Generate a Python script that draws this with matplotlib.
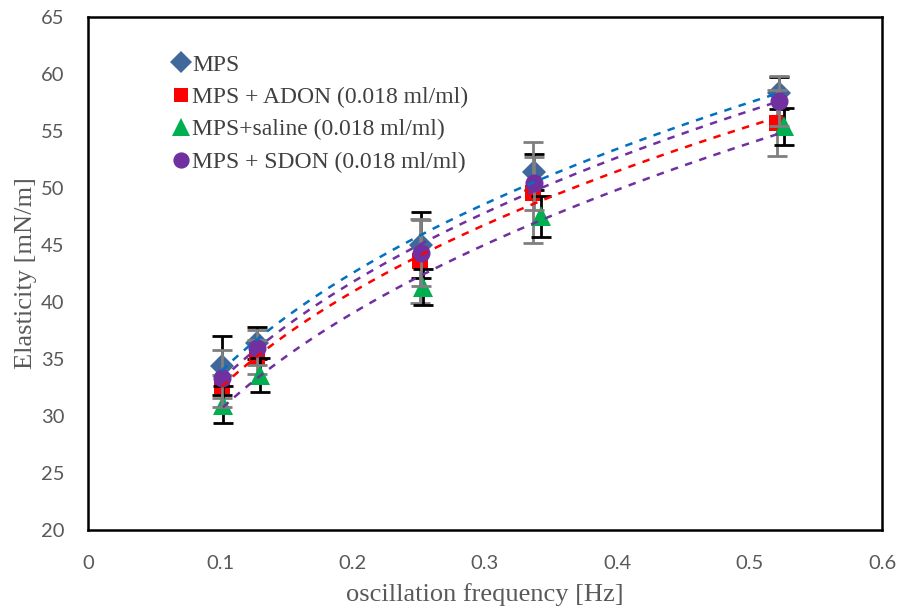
import numpy as np
import matplotlib
matplotlib.use("Agg")
import matplotlib.pyplot as plt

# Data
labels = ["MPS", "MPS + ADON (0.018 ml/ml)", "MPS+saline (0.018 ml/ml)", "MPS + SDON (0.018 ml/ml)"]
x_mps = [0.101, 0.128, 0.252, 0.337, 0.522]
y_mps = [34.4, 36.4, 45.0, 51.4, 58.3]
e_mps = [2.6, 1.4, 2.9, 1.6, 1.4]

x_adon = [0.101, 0.128, 0.251, 0.336, 0.521]
y_adon = [32.6, 35.2, 43.6, 49.6, 55.7]
e_adon = [1.0, 1.5, 3.7, 4.4, 2.9]

x_sal = [0.102, 0.130, 0.253, 0.342, 0.526]
y_sal = [31.0, 33.6, 41.3, 47.5, 55.4]
e_sal = [1.6, 1.5, 1.6, 1.8, 1.6]

x_sdon = [0.101, 0.128, 0.252, 0.337, 0.522]
y_sdon = [33.3, 36.0, 44.3, 50.4, 57.6]
e_sdon = [2.5, 1.5, 2.9, 2.3, 2.2]

xticks = [0, 0.1, 0.2, 0.3, 0.4, 0.5, 0.6]
yticks = [20, 25, 30, 35, 40, 45, 50, 55, 60, 65]

fig = plt.figure(figsize=(9.04, 6.06), dpi=100)
ax = fig.add_axes([0.0973, 0.1254, 0.8784, 0.8466])

series = [
    (x_mps, y_mps, e_mps, "D", "#41689A", 12, "black", "#0070C0"),
    (x_adon, y_adon, e_adon, "s", "#FF0000", 11.5, "#7F7F7F", "#FF0000"),
    (x_sal, y_sal, e_sal, "^", "#00B050", 14, "black", "#7030A0"),
    (x_sdon, y_sdon, e_sdon, "o", "#7030A0", 13, "#7F7F7F", "#7030A0"),
]

handles = []
for i, (xs, ys, es, m, c, ms, ec, tc) in enumerate(series):
    ax.errorbar(xs, ys, yerr=es, fmt="none", ecolor=ec, elinewidth=2,
                capsize=7, capthick=2, zorder=2 + i)
    h, = ax.plot(xs, ys, linestyle="none", marker=m, color=c, markersize=ms,
                 markeredgewidth=0, zorder=3 + i, label=labels[i])
    handles.append(h)

# power-law trendlines (fitted from the data)
for i, (xs, ys, es, m, c, ms, ec, tc) in enumerate(series):
    lx, ly = np.log(xs), np.log(ys)
    b, a = np.polyfit(lx, ly, 1)
    xx = np.linspace(min(xs), max(xs), 200)
    ax.plot(xx, np.exp(a) * xx ** b, linestyle=(0, (3, 3)), color=tc,
            linewidth=1.8, zorder=10)

ax.set_xlim(0, 0.6)
ax.set_ylim(20, 65)
ax.set_xticks(xticks)
ax.set_yticks(yticks)
ax.set_xticklabels([("%g" % t) for t in xticks])
for sp in ax.spines.values():
    sp.set_linewidth(1.8)
    sp.set_color("black")
ax.tick_params(length=0, labelsize=14.5, labelcolor="#595959")
ax.tick_params(axis="x", pad=18)
ax.tick_params(axis="y", pad=17)
for lab in ax.get_xticklabels() + ax.get_yticklabels():
    lab.set_family("Lato")

ax.set_xlabel("oscillation frequency [Hz]", family="Liberation Serif",
              fontsize=19, color="#595959", labelpad=8)
ax.set_ylabel("Elasticity [mN/m]", family="Liberation Serif",
              fontsize=19, color="#595959", labelpad=3)

leg = ax.legend(handles=handles, loc="upper left", bbox_to_anchor=(0.075, 0.969),
                frameon=False, prop={"family": "Liberation Serif", "size": 17},
                handletextpad=0.0, handlelength=1.0, labelspacing=0.46,
                markerscale=0.9)
for t in leg.get_texts():
    t.set_color("#404040")

fig.savefig("out.png", dpi=100)
